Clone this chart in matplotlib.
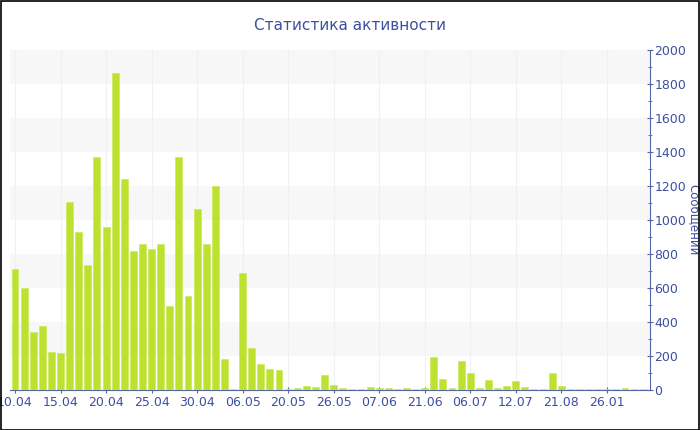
import matplotlib.pyplot as plt
import matplotlib.patches as patches
import numpy as np

# messages per day (reading from the picture)
counts = [712, 600, 341, 378, 222, 216, 1104, 931, 735, 1373,
          957, 1863, 1239, 820, 859, 827, 859, 496, 1373, 551,
          1067, 859, 1202, 182, 8, 686, 245, 153, 123, 116,
          8, 12, 23, 18, 88, 27, 14, 8, 8, 20,
          12, 10, 8, 10, 8, 10, 192, 63, 12, 173,
          98, 10, 57, 12, 23, 51, 16, 8, 8, 100,
          22, 8, 8, 8, 8, 8, 8, 10, 8, 8]
date_labels = ['10.04', '15.04', '20.04', '25.04', '30.04', '06.05', '20.05',
               '26.05', '07.06', '21.06', '06.07', '12.07', '21.08', '26.01']

txt = '#3d4f9f'
axc = '#5566a8'

fig = plt.figure(figsize=(7, 4.3), dpi=100)
ax = fig.add_axes([0.0143, 0.093, 0.9143, 0.791])

x = np.arange(len(counts))
ax.bar(x, counts, width=0.76, color='#bce22f', edgecolor='#cdea60', linewidth=0.5, zorder=3)

# alternating bands
for lo in range(200, 2000, 400):
    ax.axhspan(lo, lo + 200, color='#f7f7f7', zorder=0, lw=0)

tick_pos = np.arange(0, len(counts), 5)
for p in tick_pos:
    ax.axvline(p, color='#f0f0f0', lw=0.8, zorder=1)

ax.set_xlim(-0.55, len(counts) - 0.25)
ax.set_ylim(0, 2000)
ax.set_xticks(tick_pos)
ax.set_xticklabels(date_labels)

ax.yaxis.tick_right()
ax.set_yticks(np.arange(0, 2001, 200))
ax.set_yticks(np.arange(100, 2000, 200), minor=True)
ax.set_ylabel('Сообщений', color=txt, fontsize=8.5, rotation=270, va='center')
ax.yaxis.set_label_position('right')
ax.yaxis.set_label_coords(1.079, 0.5)

for s in ['top', 'left']:
    ax.spines[s].set_visible(False)
ax.spines['right'].set_color(axc)
ax.spines['bottom'].set_color(axc)
ax.tick_params(axis='y', which='major', colors=axc, labelcolor=txt, labelsize=9, length=4, direction='inout', pad=1)
ax.tick_params(axis='y', which='minor', colors=axc, length=3, direction='inout')
ax.tick_params(axis='x', colors=axc, labelcolor=txt, labelsize=9, length=5, direction='inout', pad=2)

fig.text(0.5, 0.94, 'Статистика активности', ha='center', va='center', color=txt, fontsize=11)

fig.patches.append(patches.Rectangle((0.001, 0.001), 0.997, 0.997, transform=fig.transFigure,
                                     fill=False, edgecolor='black', lw=1.2))

fig.savefig('out.png', dpi=100)
